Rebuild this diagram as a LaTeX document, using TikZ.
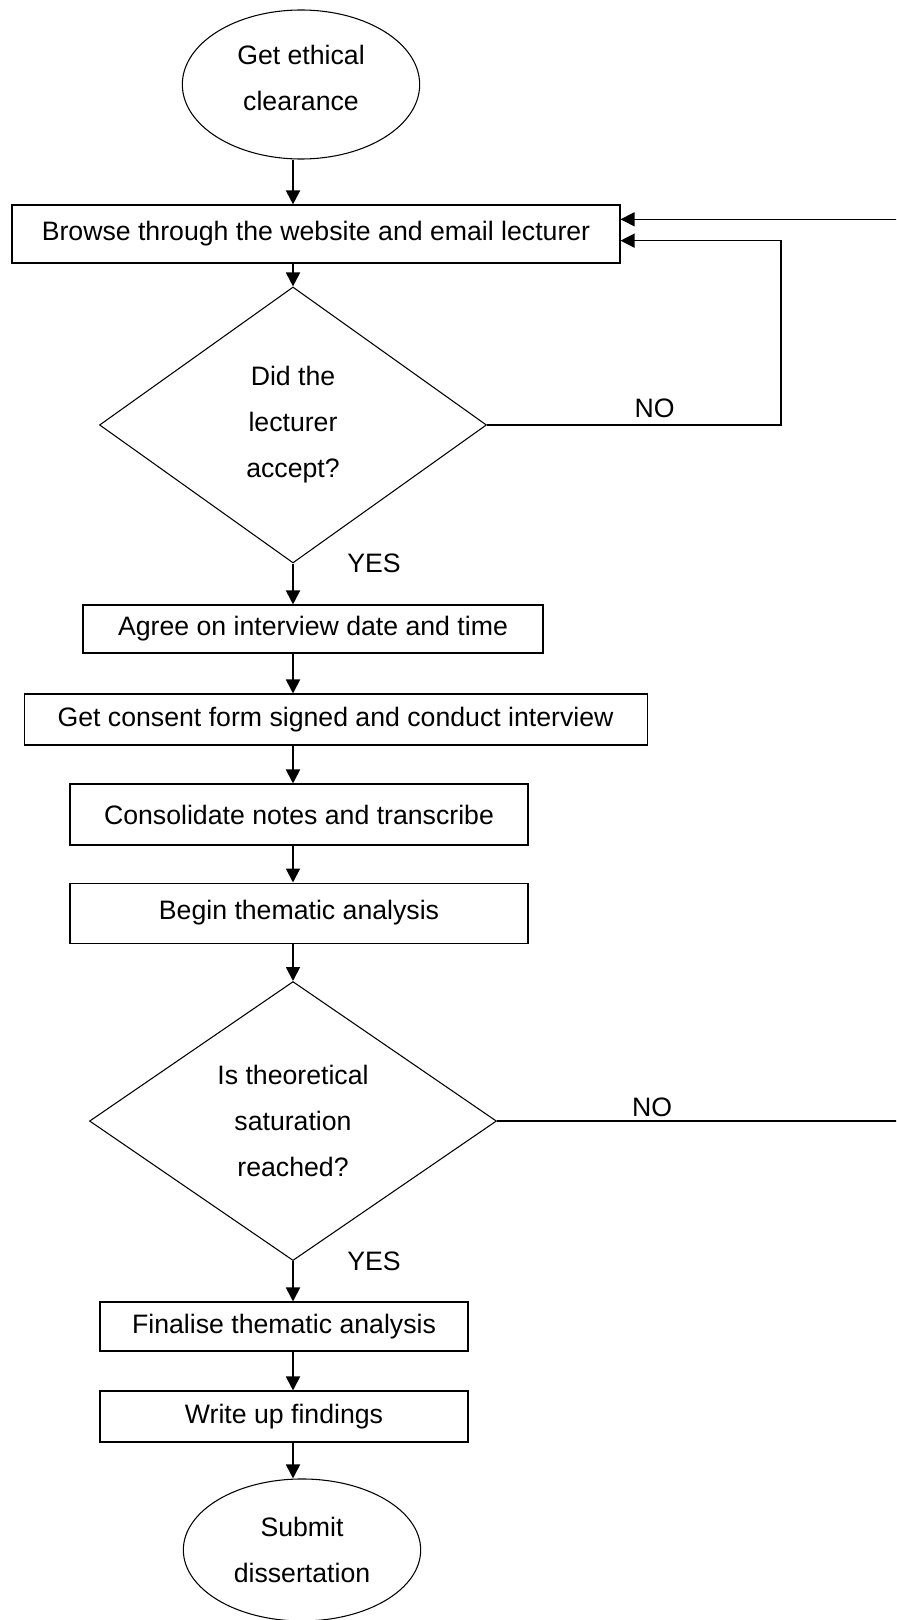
\documentclass[tikz,border=0pt]{standalone}
\usepackage{fontspec}
\setmainfont{Liberation Sans}
\usepackage{tikz}
\usetikzlibrary{arrows.meta,shapes,calc,positioning}
\tikzstyle{arrow}=[draw,-{Triangle[length=10.5pt,width=10.5pt]},line width=1.4pt]
\tikzstyle{loopline}=[draw,-{Triangle[length=10.5pt,width=10.5pt]},line width=1pt]
\tikzstyle{block} =
  [rectangle, draw, line width=0.8pt, text centered, inner sep=0pt]
\tikzstyle{cloud} =
  [draw, text centered, ellipse, align=center, line width=0.8pt,
   minimum width=178pt, minimum height=110pt]
\tikzstyle{decision} =
  [draw, diamond, align=center, line width=0.8pt, inner sep=0pt]
\tikzstyle{answer}=[inner sep=0pt]

\begin{document}
\begin{tikzpicture}[x=0.75pt, y=-0.75pt, node distance=100pt,
  font=\fontsize{20}{34.5}\selectfont]
  \useasboundingbox (0,0) rectangle (896,1620);
  \clip (0,0) rectangle (896,1620);
  \coordinate (axis) at (293,0);
  \coordinate (loop) at (781,0);
  \coordinate (edge) at (905,0);

  \node [cloud, minimum height=111.75pt, text depth=10pt] (start) at (301,84.5)
    {Get ethical\\clearance};
  \node [block, below of=start, node distance=112.1pt, xshift=11.25pt,
    minimum width=456pt, minimum height=43.5pt] (browse)
    {Browse through the website and email lecturer};
  \node [decision, below of=browse, node distance=143.25pt, xshift=-17.25pt,
    minimum width=290.25pt, minimum height=207pt] (d1)
    {Did the\\lecturer\\accept?};
  \node [block, below of=d1, node distance=153pt, xshift=15pt,
    minimum width=345pt, minimum height=36pt] (agree)
    {Agree on interview date and time};
  \node [block, below of=agree, node distance=67.9pt, xshift=16.9pt,
    minimum width=467.25pt, minimum height=38.25pt] (consent)
    {Get consent form signed and conduct interview};
  \node [block, below of=consent, node distance=71.25pt, xshift=-27.4pt,
    minimum width=343.5pt, minimum height=45.75pt] (notes)
    {Consolidate notes and transcribe};
  \node [block, below of=notes, node distance=73.9pt,
    minimum width=343.5pt, minimum height=45pt] (themes)
    {Begin thematic analysis};
  \node [decision, below of=themes, node distance=156pt, xshift=-4.5pt,
    minimum width=305.25pt, minimum height=209.25pt] (d2)
    {Is theoretical\\saturation\\reached?};
  \node [block, below of=d2, node distance=154.1pt, xshift=-6.75pt,
    minimum width=276pt, minimum height=36.75pt] (final)
    {Finalise thematic analysis};
  \node [block, below of=final, node distance=67.5pt,
    minimum width=276pt, minimum height=38.25pt] (write)
    {Write up findings};
  \node [cloud, below of=write, node distance=100.1pt, xshift=13.5pt,
    minimum height=106.5pt] (submit) {Submit\\dissertation};

  \draw [arrow] (start.south -| axis) to (browse.north -| axis);
  \draw [arrow] (browse.south -| axis) to (d1.north);
  \draw [arrow] (d1.south) -- node [answer, pos=0, anchor=west, xshift=40pt] {YES}
    (agree.north -| axis);
  \draw [arrow] (agree.south -| axis) to (consent.north -| axis);
  \draw [arrow] (consent.south -| axis) to (notes.north -| axis);
  \draw [arrow] (notes.south -| axis) to (themes.north -| axis);
  \draw [arrow] (themes.south -| axis) to (d2.north);
  \draw [arrow] (d2.south) -- node [answer, pos=0, anchor=west, xshift=40pt] {YES}
    (final.north -| axis);
  \draw [arrow] (final.south -| axis) to (write.north -| axis);
  \draw [arrow] (write.south -| axis) to (submit.north -| axis);

  \draw [loopline] (d1.east) -- node [answer, pos=0.57, yshift=12.75pt] {NO}
    (d1.east -| loop) |- ([yshift=-5pt]browse.east);
  \draw [loopline] (d2.east) -- node [answer, pos=0.38, yshift=10.5pt] {NO}
    (d2.east -| edge) |- ([yshift=11pt]browse.east);
\end{tikzpicture}
\end{document}
